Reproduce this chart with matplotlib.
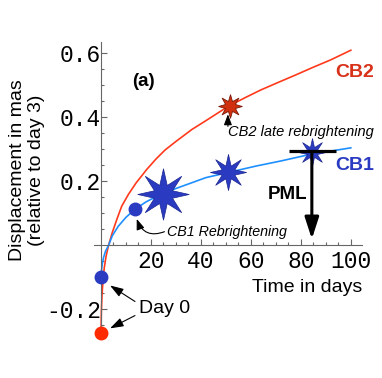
import matplotlib
matplotlib.use("Agg")
import matplotlib.pyplot as plt
from matplotlib.path import Path

# ---- data ----
cb2_t = [0, 0.15, 0.4, 0.8, 1.3, 2.0, 3.0, 4.5, 6.5, 8.3, 11, 14, 18.3, 22, 25.6, 30, 36.4, 42, 50.8, 58, 64, 70.8, 78, 85, 92, 100]
cb2_y = [-0.272, -0.205, -0.155, -0.11, -0.07, -0.035, 0.0, 0.04, 0.085, 0.123, 0.16, 0.195, 0.2375, 0.27, 0.298, 0.325, 0.3625, 0.39, 0.434, 0.463, 0.486, 0.509, 0.533, 0.557, 0.58, 0.61]

cb1_t = [0, 0.2, 0.5, 1.0, 1.8, 3.0, 4.5, 6.9, 10, 13.6, 18, 24, 30, 36, 42, 52, 62, 72, 84, 92, 100]
cb1_y = [-0.10, -0.078, -0.058, -0.038, -0.018, 0.0, 0.03, 0.06, 0.088, 0.113, 0.136, 0.16, 0.178, 0.195, 0.212, 0.23, 0.248, 0.264, 0.285, 0.295, 0.305]

day0_t = [0, 0]
day0_y = [-0.10, -0.272]          # CB1, CB2
cb1_rebright = (13.6, 0.113)
cb1_star_t = [25, 51, 84.4]
cb1_star_y = [0.16, 0.231, 0.292]
cb2_star_t = [51.5]
cb2_star_y = [0.435]
pml_t, pml_y, pml_lo, pml_hi, pml_tip = 84.4, 0.294, 75.2, 94.2, 0.02

x_ticks = [20, 40, 60, 80, 100]
x_ticklabels = ["20", "40", "60", "80", "100"]
y_ticks = [-0.2, 0.2, 0.4, 0.6]
y_ticklabels = ["-0.2", "0.2", "0.4", "0.6"]

RED = "#ff3a1c"
RED_DARK = "#d8321a"
BLUE_LINE = "#1e8fff"
BLUE = "#2a3bc2"

fig = plt.figure(figsize=(3.82, 3.78), dpi=100)
ax = fig.add_axes([0.2448, 0.1093, 0.703, 0.779])
ax.set_xlim(-3, 104.5)
ax.set_ylim(-0.285, 0.635)

for s in ["top", "right"]:
    ax.spines[s].set_visible(False)
ax.spines["left"].set_position(("data", 0))
ax.spines["bottom"].set_position(("data", 0))
for s in ["left", "bottom"]:
    ax.spines[s].set_color("#666666")
    ax.spines[s].set_linewidth(0.8)

ax.set_xticks(x_ticks)
ax.set_xticklabels(x_ticklabels)
ax.set_yticks(y_ticks)
ax.set_yticklabels(y_ticklabels)
ax.set_xticks([v for v in range(5, 105, 5) if v % 20], minor=True)
ax.set_yticks([-0.25, -0.15, -0.1, -0.05, 0.05, 0.1, 0.15, 0.25, 0.3, 0.35, 0.45, 0.5, 0.55], minor=True)
ax.tick_params(which="both", direction="in", color="#666666", width=0.8)
ax.tick_params(which="major", length=4)
ax.tick_params(which="minor", length=2)
ax.tick_params(axis="y", pad=0)
ax.tick_params(axis="x", pad=3)
for lab in ax.get_xticklabels() + ax.get_yticklabels():
    lab.set_fontfamily("Liberation Mono")
    lab.set_fontsize(16.5)

# curves
ax.plot(cb2_t, cb2_y, color=RED, lw=1.2, zorder=2, clip_on=False)
ax.plot(cb1_t, cb1_y, color=BLUE_LINE, lw=1.2, zorder=2, clip_on=False)

star = Path.unit_regular_star(8, 0.38)
star2 = Path.unit_regular_star(8, 0.45)
for t, y, ms in zip(cb1_star_t, cb1_star_y, [37, 26, 20]):
    ax.plot([t], [y], marker=star, ms=ms, color=BLUE, mec="#1a2590", mew=0.5, zorder=4)
ax.plot(cb2_star_t, cb2_star_y, marker=star2, ms=17, color="#d0300e", mec="#7a1a08", mew=0.6, ls="none", zorder=4)

ax.plot([day0_t[0]], [day0_y[0]], "o", ms=9, color=BLUE, zorder=5, clip_on=False)
ax.plot([day0_t[1]], [day0_y[1]], "o", ms=9, color="#ff2a00", zorder=5, clip_on=False)
ax.plot([cb1_rebright[0]], [cb1_rebright[1]], "o", ms=9, color=BLUE, zorder=5)

# PML crosshair and arrow
ax.plot([pml_lo, pml_hi], [pml_y, pml_y], color="black", lw=2.3, solid_capstyle="butt", zorder=6)
ax.annotate("", xy=(pml_t, pml_tip), xytext=(pml_t, pml_y),
            arrowprops=dict(arrowstyle="-|>,head_length=1.3,head_width=0.42", color="black",
                            lw=2.2, mutation_scale=10, shrinkA=0, shrinkB=0), zorder=6)
ax.text(74.5, 0.158, "PML", fontsize=13.5, fontweight="bold", family="Liberation Sans",
        ha="center", va="center")

# text labels
ax.text(16.8, 0.5125, "(a)", fontsize=13.5, fontweight="bold", family="Liberation Sans",
        ha="center", va="center")
ax.text(101.6, 0.54, "CB2", fontsize=14, fontweight="bold", family="Liberation Sans",
        color=RED_DARK, ha="center", va="center")
ax.text(101.6, 0.25, "CB1", fontsize=14, fontweight="bold", family="Liberation Sans",
        color=BLUE, ha="center", va="center")

ax.text(50.8, 0.353, "CB2 late rebrightening", fontsize=10.5, style="italic",
        family="Liberation Sans", ha="left", va="center")
ax.annotate("", xy=(50.8, 0.41), xytext=(50.8, 0.372),
            arrowprops=dict(arrowstyle="-|>,head_length=0.8,head_width=0.3", color="black",
                            lw=0.8, mutation_scale=8, shrinkA=0, shrinkB=0))

ax.text(26.4, 0.0406, "CB1 Rebrightening", fontsize=10.3, style="italic",
        family="Liberation Sans", ha="left", va="center")
ax.annotate("", xy=(14.3, 0.083), xytext=(25.4, 0.043),
            arrowprops=dict(arrowstyle="-|>,head_length=0.8,head_width=0.3", color="black",
                            lw=0.8, mutation_scale=8, shrinkA=0, shrinkB=0,
                            connectionstyle="arc3,rad=-0.5"))

ax.text(25.6, -0.198, "Day 0", fontsize=14, family="Liberation Sans", ha="center", va="center")
for (x0, y0), (x1, y1) in [((13.6, -0.175), (3.6, -0.125)), ((13.6, -0.219), (3.6, -0.259))]:
    ax.annotate("", xy=(x1, y1), xytext=(x0, y0),
                arrowprops=dict(arrowstyle="-|>,head_length=0.9,head_width=0.3", color="black",
                                lw=0.8, mutation_scale=9, shrinkA=0, shrinkB=0),
                annotation_clip=False)

fig.text(27 / 382, 1 - 170 / 378, "Displacement in mas\n(relative to day 3)", rotation=90,
         fontsize=14, family="Liberation Sans", ha="center", va="center",
         multialignment="center", linespacing=1.15)
fig.text(307 / 382, 1 - 288 / 378, "Time in days", fontsize=14, family="Liberation Sans",
         ha="center", va="center")

fig.savefig("out.png", dpi=100)
